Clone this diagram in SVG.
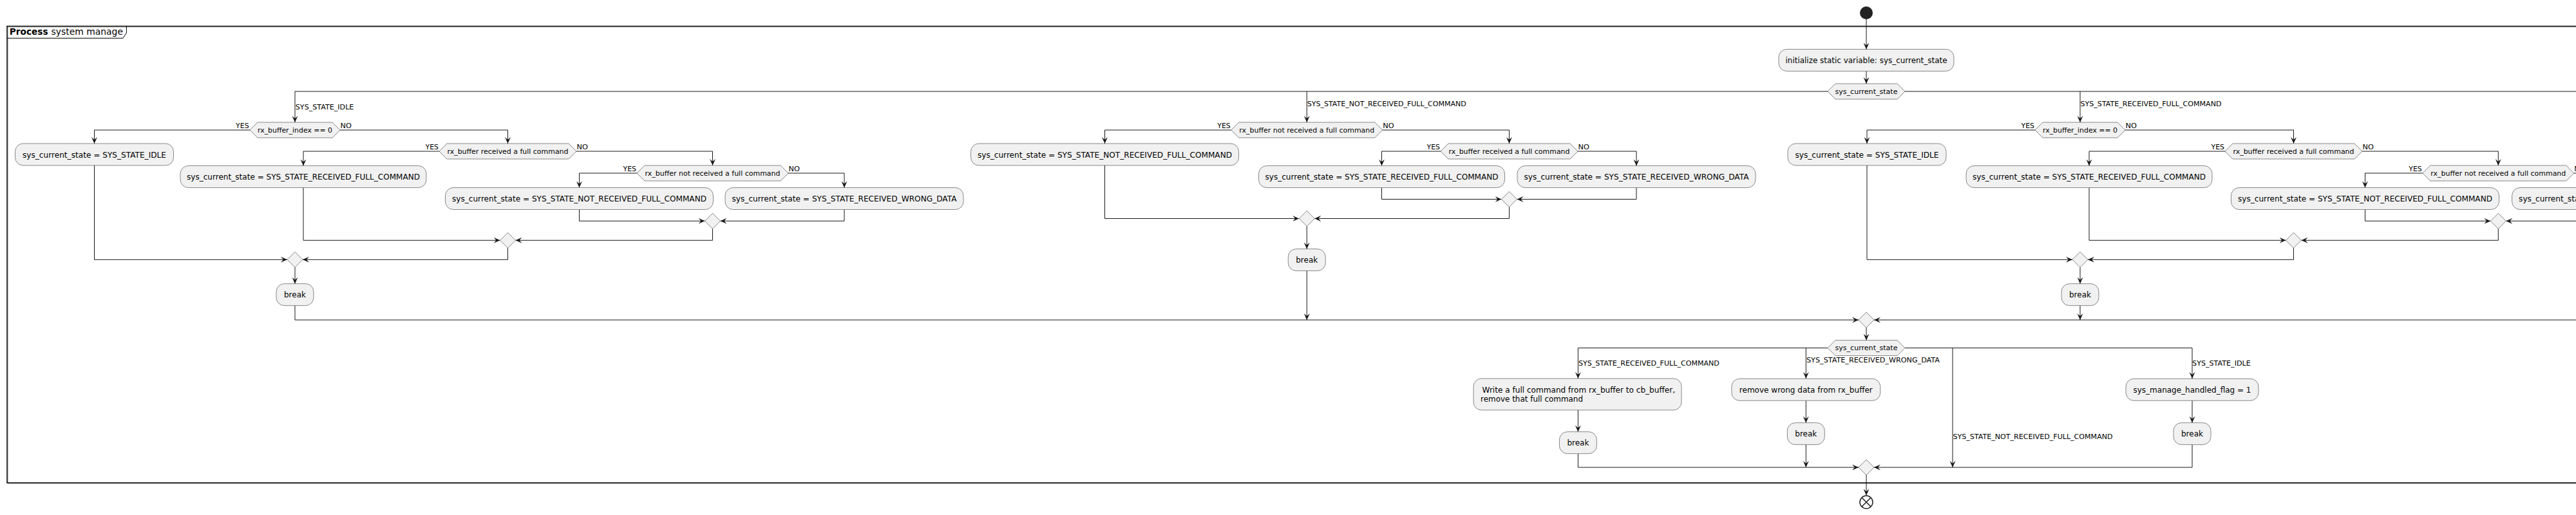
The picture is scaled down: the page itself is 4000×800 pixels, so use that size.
<svg xmlns="http://www.w3.org/2000/svg" width="4000" height="800" viewBox="0 0 4000 800">
<defs>
<style>
.n{fill:#F1F1F1;stroke:#181818;stroke-width:0.5}
.t{font-family:'DejaVu Sans',sans-serif;font-size:12px;fill:#000}
.d{font-family:'DejaVu Sans',sans-serif;font-size:11px;fill:#000}
.l{font-family:'DejaVu Sans',sans-serif;font-size:11px;fill:#000}
.c{fill:none;stroke:#181818;stroke-width:1;marker-end:url(#a)}
.p{fill:none;stroke:#181818;stroke-width:1}
</style>
<marker id="a" viewBox="0 0 10 10" markerWidth="10" markerHeight="10" refX="10" refY="5" orient="auto" markerUnits="userSpaceOnUse"><path d="M0,0.5 L10,5 L0,9.5 L4,5 Z" fill="#181818"/></marker>
</defs>
<rect width="4000" height="800" fill="#fff"/>
<g id="frame">
<rect x="12.5" y="42.2" width="4100" height="709.3" fill="none" stroke="#bbb" stroke-width="1"/>
<rect x="11" y="40.7" width="4100" height="709.3" fill="none" stroke="#000" stroke-width="1.5"/>
<path d="M11,59.3 H191 L196.4,51 V40.7" fill="none" stroke="#000" stroke-width="1"/>
<text x="14.7" y="54" font-family="'DejaVu Sans',sans-serif" font-size="14" font-weight="bold" textLength="60" lengthAdjust="spacingAndGlyphs">Process</text>
<text x="79.5" y="54" font-family="'DejaVu Sans',sans-serif" font-size="14" textLength="111.5" lengthAdjust="spacingAndGlyphs">system manage</text>
</g>
<g id="connectors">
<path class="c" d="M2898,30 V76.5"/>
<path class="c" d="M2898,110.5 V130"/>
<path class="c" d="M2838,142 H458 V190"/>
<path class="p" d="M2958,142 H4010"/>
<path class="c" d="M2029.25,142 V190"/>
<path class="c" d="M3230,142 V190"/>
<path class="c" d="M388,202 H146.5 V223"/>
<path class="c" d="M528,202 H788.5 V223"/>
<path class="c" d="M682,235 H471 V257.5"/>
<path class="c" d="M895,235 H1106.5 V257"/>
<path class="c" d="M989,269 H899.5 V291.5"/>
<path class="c" d="M1224,269 H1311 V291.5"/>
<path class="c" d="M899.5,325.5 V343.3 H1094.5"/>
<path class="c" d="M1311,325.5 V343.3 H1118.5"/>
<path class="c" d="M1106.5,355.3 V373.3 H800.5"/>
<path class="c" d="M471,291.5 V373.3 H776.5"/>
<path class="c" d="M146.5,257 V403.3 H446"/>
<path class="c" d="M788.5,385.3 V403.3 H470"/>
<path class="c" d="M458,415.3 V440.7"/>
<path class="c" d="M458,474.7 V497 H2886"/>
<path class="c" d="M1911.75,202 H1715.5 V223"/>
<path class="c" d="M2146.75,202 H2343.5 V223"/>
<path class="c" d="M2237,235 H2145.5 V257.5"/>
<path class="c" d="M2450,235 H2541 V257.5"/>
<path class="c" d="M2145.5,291.5 V309.5 H2331.5"/>
<path class="c" d="M2541,291.5 V309.5 H2355.5"/>
<path class="c" d="M1715.5,257 V339.5 H2017.25"/>
<path class="c" d="M2343.5,321.5 V339.5 H2041.25"/>
<path class="c" d="M2029.25,351.5 V386.7"/>
<path class="c" d="M2029.25,420.7 V497"/>
<path class="c" d="M3160,202 H2899 V223"/>
<path class="c" d="M3300,202 H3561.5 V223"/>
<path class="c" d="M3455,235 H3244 V257.5"/>
<path class="c" d="M3668,235 H3879.3 V257"/>
<path class="c" d="M3761.8,269 H3672.5 V291.5"/>
<path class="c" d="M3996.8,269 H4085.6 V291.5"/>
<path class="c" d="M3672.5,325.5 V343.3 H3867.3"/>
<path class="c" d="M4085.6,325.5 V343.3 H3891.3"/>
<path class="c" d="M3879.3,355.3 V373.3 H3573.5"/>
<path class="c" d="M3244,291.5 V373.3 H3549.5"/>
<path class="c" d="M2899,257 V403.3 H3218"/>
<path class="c" d="M3561.5,385.3 V403.3 H3242"/>
<path class="c" d="M3230,415.3 V440.7"/>
<path class="c" d="M3230,474.7 V497"/>
<path class="c" d="M4010,497 H2910"/>
<path class="c" d="M2898,509 V528.5"/>
<path class="c" d="M2838,540.5 H2450.4 V588"/>
<path class="c" d="M2804.3,540.5 V588"/>
<path class="c" d="M3032,540.5 V726"/>
<path class="c" d="M2958,540.5 H3404 V588"/>
<path class="c" d="M2450.4,637 V670.7"/>
<path class="c" d="M2450.4,704.7 V726 H2886"/>
<path class="c" d="M2804.3,622.5 V656.7"/>
<path class="c" d="M2804.3,690.7 V726"/>
<path class="c" d="M3404,622.5 V656.7"/>
<path class="c" d="M3404,690.7 V726 H2910"/>
<path class="c" d="M2898,738 V769.5"/>
<g class="l">
<text x="386.6" y="199.3" text-anchor="end" textLength="20.5" lengthAdjust="spacingAndGlyphs">YES</text>
<text x="528.5" y="199.3" textLength="17.4" lengthAdjust="spacingAndGlyphs">NO</text>
<text x="681" y="232.3" text-anchor="end" textLength="20.5" lengthAdjust="spacingAndGlyphs">YES</text>
<text x="895.5" y="232.3" textLength="17.4" lengthAdjust="spacingAndGlyphs">NO</text>
<text x="988" y="266.3" text-anchor="end" textLength="20.5" lengthAdjust="spacingAndGlyphs">YES</text>
<text x="1224.5" y="266.3" textLength="17.4" lengthAdjust="spacingAndGlyphs">NO</text>
<text x="1910.75" y="199.3" text-anchor="end" textLength="20.5" lengthAdjust="spacingAndGlyphs">YES</text>
<text x="2147.25" y="199.3" textLength="17.4" lengthAdjust="spacingAndGlyphs">NO</text>
<text x="2236" y="232.3" text-anchor="end" textLength="20.5" lengthAdjust="spacingAndGlyphs">YES</text>
<text x="2450.5" y="232.3" textLength="17.4" lengthAdjust="spacingAndGlyphs">NO</text>
<text x="3159" y="199.3" text-anchor="end" textLength="20.5" lengthAdjust="spacingAndGlyphs">YES</text>
<text x="3300.5" y="199.3" textLength="17.4" lengthAdjust="spacingAndGlyphs">NO</text>
<text x="3454" y="232.3" text-anchor="end" textLength="20.5" lengthAdjust="spacingAndGlyphs">YES</text>
<text x="3668.5" y="232.3" textLength="17.4" lengthAdjust="spacingAndGlyphs">NO</text>
<text x="3760.8" y="266.3" text-anchor="end" textLength="20.5" lengthAdjust="spacingAndGlyphs">YES</text>
<text x="3997.3" y="266.3" textLength="17.4" lengthAdjust="spacingAndGlyphs">NO</text>
<text x="458.8" y="170" textLength="90.6" lengthAdjust="spacingAndGlyphs">SYS_STATE_IDLE</text>
<text x="2029.75" y="165.3" textLength="247" lengthAdjust="spacingAndGlyphs">SYS_STATE_NOT_RECEIVED_FULL_COMMAND</text>
<text x="3230.5" y="165.3" textLength="219" lengthAdjust="spacingAndGlyphs">SYS_STATE_RECEIVED_FULL_COMMAND</text>
<text x="2450.9" y="568.3" textLength="219" lengthAdjust="spacingAndGlyphs">SYS_STATE_RECEIVED_FULL_COMMAND</text>
<text x="2805" y="563.3" textLength="207" lengthAdjust="spacingAndGlyphs">SYS_STATE_RECEIVED_WRONG_DATA</text>
<text x="3032.5" y="682.3" textLength="248" lengthAdjust="spacingAndGlyphs">SYS_STATE_NOT_RECEIVED_FULL_COMMAND</text>
<text x="3404.1" y="568.3" textLength="90.6" lengthAdjust="spacingAndGlyphs">SYS_STATE_IDLE</text>
</g>
</g>
<g id="start"><circle cx="2898" cy="20" r="10" fill="#222"/></g>
<g id="init"><rect class="n" x="2762" y="76.5" width="272" height="34" rx="12.5"/><text class="t" x="2898" y="97.5" text-anchor="middle" textLength="251" lengthAdjust="spacingAndGlyphs">initialize static variable: sys_current_state</text></g>
<g id="switch1"><polygon class="n" points="2838,142 2850,130 2946,130 2958,142 2946,154 2850,154"/><text class="d" x="2898" y="145.8" text-anchor="middle" textLength="97" lengthAdjust="spacingAndGlyphs">sys_current_state</text></g>
<g id="b1-if1"><polygon class="n" points="388,202 400,190 516,190 528,202 516,214 400,214"/><text class="d" x="458" y="205.7" text-anchor="middle" textLength="116" lengthAdjust="spacingAndGlyphs">rx_buffer_index == 0</text></g>
<g id="b1-idle"><rect class="n" x="23.5" y="223" width="246" height="34" rx="12.5"/><text class="t" x="146.5" y="244.5" text-anchor="middle" textLength="223" lengthAdjust="spacingAndGlyphs">sys_current_state = SYS_STATE_IDLE</text></g>
<g id="b1-if2"><polygon class="n" points="682,235 694,223 883,223 895,235 883,247 694,247"/><text class="d" x="788.5" y="238.7" text-anchor="middle" textLength="188" lengthAdjust="spacingAndGlyphs">rx_buffer received a full command</text></g>
<g id="b1-rfc"><rect class="n" x="280" y="257.5" width="382" height="34" rx="12.5"/><text class="t" x="471" y="279" text-anchor="middle" textLength="362" lengthAdjust="spacingAndGlyphs">sys_current_state = SYS_STATE_RECEIVED_FULL_COMMAND</text></g>
<g id="b1-if3"><polygon class="n" points="989,269 1001,257 1212,257 1224,269 1212,281 1001,281"/><text class="d" x="1106.5" y="272.7" text-anchor="middle" textLength="210" lengthAdjust="spacingAndGlyphs">rx_buffer not received a full command</text></g>
<g id="b1-nrfc"><rect class="n" x="691.5" y="291.5" width="416" height="34" rx="12.5"/><text class="t" x="899.5" y="313" text-anchor="middle" textLength="395" lengthAdjust="spacingAndGlyphs">sys_current_state = SYS_STATE_NOT_RECEIVED_FULL_COMMAND</text></g>
<g id="b1-rwd"><rect class="n" x="1126" y="291.5" width="370" height="34" rx="12.5"/><text class="t" x="1311" y="313" text-anchor="middle" textLength="349" lengthAdjust="spacingAndGlyphs">sys_current_state = SYS_STATE_RECEIVED_WRONG_DATA</text></g>
<g id="b1-m3"><polygon class="n" points="1106.5,331.3 1118.5,343.3 1106.5,355.3 1094.5,343.3"/></g>
<g id="b1-m2"><polygon class="n" points="788.5,361.3 800.5,373.3 788.5,385.3 776.5,373.3"/></g>
<g id="b1-m1"><polygon class="n" points="458,391.3 470,403.3 458,415.3 446,403.3"/></g>
<g id="b1-break"><rect class="n" x="429" y="440.7" width="58" height="34" rx="12.5"/><text class="t" x="458" y="461.9" text-anchor="middle" textLength="34" lengthAdjust="spacingAndGlyphs">break</text></g>
<g id="b2-if1"><polygon class="n" points="1911.75,202 1923.75,190 2134.75,190 2146.75,202 2134.75,214 1923.75,214"/><text class="d" x="2029.25" y="205.7" text-anchor="middle" textLength="210" lengthAdjust="spacingAndGlyphs">rx_buffer not received a full command</text></g>
<g id="b2-nrfc"><rect class="n" x="1507.5" y="223" width="416" height="34" rx="12.5"/><text class="t" x="1715.5" y="244.5" text-anchor="middle" textLength="395" lengthAdjust="spacingAndGlyphs">sys_current_state = SYS_STATE_NOT_RECEIVED_FULL_COMMAND</text></g>
<g id="b2-if2"><polygon class="n" points="2237,235 2249,223 2438,223 2450,235 2438,247 2249,247"/><text class="d" x="2343.5" y="238.7" text-anchor="middle" textLength="188" lengthAdjust="spacingAndGlyphs">rx_buffer received a full command</text></g>
<g id="b2-rfc"><rect class="n" x="1954.5" y="257.5" width="382" height="34" rx="12.5"/><text class="t" x="2145.5" y="279" text-anchor="middle" textLength="362" lengthAdjust="spacingAndGlyphs">sys_current_state = SYS_STATE_RECEIVED_FULL_COMMAND</text></g>
<g id="b2-rwd"><rect class="n" x="2356" y="257.5" width="370" height="34" rx="12.5"/><text class="t" x="2541" y="279" text-anchor="middle" textLength="349" lengthAdjust="spacingAndGlyphs">sys_current_state = SYS_STATE_RECEIVED_WRONG_DATA</text></g>
<g id="b2-m2"><polygon class="n" points="2343.5,297.5 2355.5,309.5 2343.5,321.5 2331.5,309.5"/></g>
<g id="b2-m1"><polygon class="n" points="2029.25,327.5 2041.25,339.5 2029.25,351.5 2017.25,339.5"/></g>
<g id="b2-break"><rect class="n" x="2000.25" y="386.7" width="58" height="34" rx="12.5"/><text class="t" x="2029.25" y="407.9" text-anchor="middle" textLength="34" lengthAdjust="spacingAndGlyphs">break</text></g>
<g id="b3-if1"><polygon class="n" points="3160,202 3172,190 3288,190 3300,202 3288,214 3172,214"/><text class="d" x="3230" y="205.7" text-anchor="middle" textLength="116" lengthAdjust="spacingAndGlyphs">rx_buffer_index == 0</text></g>
<g id="b3-idle"><rect class="n" x="2776" y="223" width="246" height="34" rx="12.5"/><text class="t" x="2899" y="244.5" text-anchor="middle" textLength="223" lengthAdjust="spacingAndGlyphs">sys_current_state = SYS_STATE_IDLE</text></g>
<g id="b3-if2"><polygon class="n" points="3455,235 3467,223 3656,223 3668,235 3656,247 3467,247"/><text class="d" x="3561.5" y="238.7" text-anchor="middle" textLength="188" lengthAdjust="spacingAndGlyphs">rx_buffer received a full command</text></g>
<g id="b3-rfc"><rect class="n" x="3053" y="257.5" width="382" height="34" rx="12.5"/><text class="t" x="3244" y="279" text-anchor="middle" textLength="362" lengthAdjust="spacingAndGlyphs">sys_current_state = SYS_STATE_RECEIVED_FULL_COMMAND</text></g>
<g id="b3-if3"><polygon class="n" points="3761.8,269 3773.8,257 3984.8,257 3996.8,269 3984.8,281 3773.8,281"/><text class="d" x="3879.3" y="272.7" text-anchor="middle" textLength="210" lengthAdjust="spacingAndGlyphs">rx_buffer not received a full command</text></g>
<g id="b3-nrfc"><rect class="n" x="3464.5" y="291.5" width="416" height="34" rx="12.5"/><text class="t" x="3672.5" y="313" text-anchor="middle" textLength="395" lengthAdjust="spacingAndGlyphs">sys_current_state = SYS_STATE_NOT_RECEIVED_FULL_COMMAND</text></g>
<g id="b3-rwd"><rect class="n" x="3900.6" y="291.5" width="370" height="34" rx="12.5"/><text class="t" x="4085.6" y="313" text-anchor="middle" textLength="349" lengthAdjust="spacingAndGlyphs">sys_current_state = SYS_STATE_RECEIVED_WRONG_DATA</text></g>
<g id="b3-m3"><polygon class="n" points="3879.3,331.3 3891.3,343.3 3879.3,355.3 3867.3,343.3"/></g>
<g id="b3-m2"><polygon class="n" points="3561.5,361.3 3573.5,373.3 3561.5,385.3 3549.5,373.3"/></g>
<g id="b3-m1"><polygon class="n" points="3230,391.3 3242,403.3 3230,415.3 3218,403.3"/></g>
<g id="b3-break"><rect class="n" x="3201" y="440.7" width="58" height="34" rx="12.5"/><text class="t" x="3230" y="461.9" text-anchor="middle" textLength="34" lengthAdjust="spacingAndGlyphs">break</text></g>
<g id="merge1"><polygon class="n" points="2898,485 2910,497 2898,509 2886,497"/></g>
<g id="switch2"><polygon class="n" points="2838,540.5 2850,528.5 2946,528.5 2958,540.5 2946,552.5 2850,552.5"/><text class="d" x="2898" y="544.2" text-anchor="middle" textLength="97" lengthAdjust="spacingAndGlyphs">sys_current_state</text></g>
<g id="write"><rect class="n" x="2288" y="588" width="323" height="49" rx="12.5"/><text class="t" x="2301.5" y="610" textLength="299.5" lengthAdjust="spacingAndGlyphs">Write a full command from rx_buffer to cb_buffer,</text><text class="t" x="2299" y="624" textLength="159" lengthAdjust="spacingAndGlyphs">remove that full command</text></g>
<g id="breakA"><rect class="n" x="2421.4" y="670.7" width="58" height="34" rx="12.5"/><text class="t" x="2450.4" y="691.9" text-anchor="middle" textLength="34" lengthAdjust="spacingAndGlyphs">break</text></g>
<g id="removewrong"><rect class="n" x="2688.8" y="588.3" width="231" height="34" rx="12.5"/><text class="t" x="2804.3" y="609.5" text-anchor="middle" textLength="207" lengthAdjust="spacingAndGlyphs">remove wrong data from rx_buffer</text></g>
<g id="breakB"><rect class="n" x="2775.3" y="656.7" width="58" height="34" rx="12.5"/><text class="t" x="2804.3" y="677.9" text-anchor="middle" textLength="34" lengthAdjust="spacingAndGlyphs">break</text></g>
<g id="flag"><rect class="n" x="3301" y="588.3" width="206" height="34" rx="12.5"/><text class="t" x="3404" y="609.5" text-anchor="middle" textLength="183" lengthAdjust="spacingAndGlyphs">sys_manage_handled_flag = 1</text></g>
<g id="breakD"><rect class="n" x="3375" y="656.7" width="58" height="34" rx="12.5"/><text class="t" x="3404" y="677.9" text-anchor="middle" textLength="34" lengthAdjust="spacingAndGlyphs">break</text></g>
<g id="merge2"><polygon class="n" points="2898,714 2910,726 2898,738 2886,726"/></g>
<g id="end"><circle cx="2898" cy="780" r="10" fill="#fff" stroke="#222" stroke-width="1.5"/><path d="M2891,773 L2905,787 M2905,773 L2891,787" stroke="#222" stroke-width="1.5"/></g>
</svg>
